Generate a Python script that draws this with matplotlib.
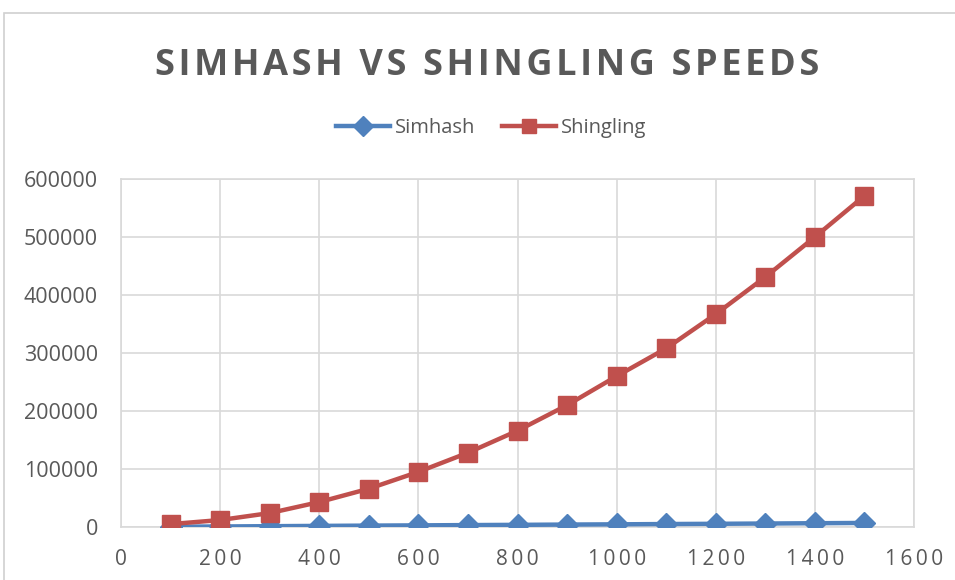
import matplotlib
matplotlib.use("Agg")
import matplotlib.pyplot as plt
from matplotlib.patches import Rectangle

x_values = [100, 200, 300, 400, 500, 600, 700, 800, 900, 1000, 1100, 1200, 1300, 1400, 1500]
simhash = [500, 900, 1400, 1900, 2400, 2800, 3300, 3700, 4200, 4600, 5100, 5500, 6000, 6500, 7000]
shingling = [5000, 12000, 24000, 43000, 66000, 95000, 128000, 166000, 210000, 260000,
             308000, 367000, 431000, 500000, 571000]
x_ticks = [0, 200, 400, 600, 800, 1000, 1200, 1400, 1600]
y_ticks = [0, 100000, 200000, 300000, 400000, 500000, 600000]
title = 'SIMHASH VS SHINGLING SPEEDS'

plt.rcParams['font.family'] = ['Open Sans', 'DejaVu Sans']
txt = '#595959'
blue = '#4F81BD'
red = '#C0504D'

fig = plt.figure(figsize=(9.55, 5.8), dpi=100)
ax = fig.add_axes([121/955, 1-527/580, (914-121)/955, (527-179)/580])

ax.plot(x_values, simhash, color=blue, lw=3.2, marker='D', ms=11.5, label='Simhash', zorder=3)
ax.plot(x_values, shingling, color=red, lw=3.2, marker='s', ms=12.5, label='Shingling', zorder=4)

ax.set_xlim(0, 1600)
ax.set_ylim(0, 600000)
ax.set_xticks(x_ticks)
ax.set_yticks(y_ticks)
ax.set_xticklabels(['\u2009'.join(list(str(v))) for v in x_ticks])
ax.set_yticklabels([str(v) for v in y_ticks])
ax.grid(True, color='#D9D9D9', lw=1.2)
ax.set_axisbelow(True)
for s in ['top', 'right', 'left', 'bottom']:
    ax.spines[s].set_color('#D9D9D9')
    ax.spines[s].set_linewidth(1.2)
ax.tick_params(length=0, labelcolor=txt)
ax.tick_params(axis='x', pad=16, labelsize=15)
ax.tick_params(axis='y', pad=16.5, labelsize=15.5)

spaced_title = '\u200a \u200a'.join('\u200a'.join(list(w)) for w in title.split(' '))
fig.text(487/955, 1-75/580, spaced_title,
         ha='center', va='baseline', fontsize=26, fontweight='bold', color=txt)

leg = fig.legend(loc='center', bbox_to_anchor=(491/955, 1-128/580), ncol=2, frameon=False,
                 fontsize=14.5, labelcolor=txt, handlelength=2.7, columnspacing=1.3,
                 handletextpad=0.25, markerscale=0.85)

fig.patches.append(Rectangle((4/955, -0.1), 1.2, 1-13/580+0.1, transform=fig.transFigure,
                             fill=False, edgecolor='#D0D0D0', lw=1.2))

fig.savefig('out.png', dpi=100, facecolor='white')
